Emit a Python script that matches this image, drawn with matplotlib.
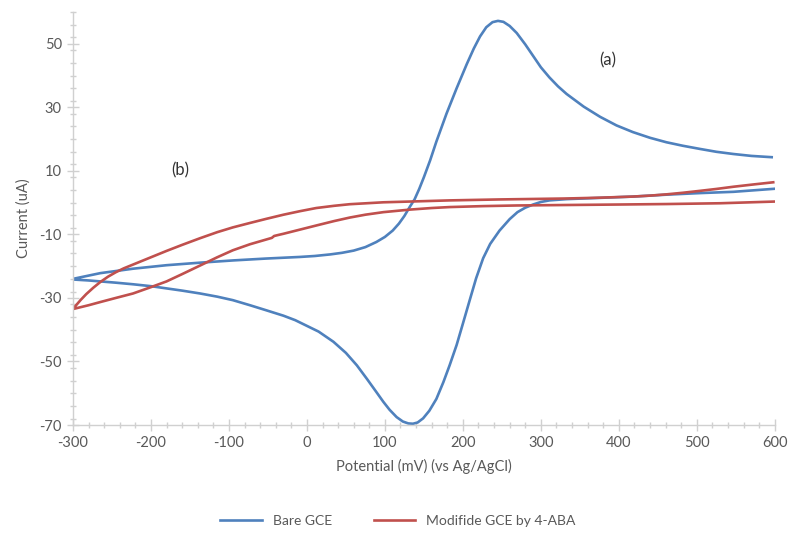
import numpy as np
import matplotlib
matplotlib.use('Agg')
from matplotlib import pyplot as plt
from matplotlib.ticker import MultipleLocator

plt.rcParams['font.family'] = ['Lato', 'DejaVu Sans']
plt.rcParams['axes.unicode_minus'] = False

# Bare GCE - upper branch (with anodic peak), potential in mV, current in uA
bare_up_x = [-300, -265, -223, -180, -137, -95, -52, -9, 10, 30, 45, 60, 75, 89, 100,
             110, 118, 125, 132, 138, 144, 150, 158, 166, 179, 192, 205, 214, 222, 230,
             238, 245, 252, 260, 269, 280, 290, 300, 311, 322, 333, 355, 376, 397, 418,
             440, 461, 482, 504, 525, 547, 570, 596]
bare_up_y = [-24.0, -22.2, -20.8, -19.7, -18.9, -18.2, -17.6, -17.1, -16.8, -16.3, -15.8,
             -15.1, -14.0, -12.4, -10.8, -8.8, -6.6, -4.2, -1.3, 1.0, 4.3, 8.0, 13.3, 19.2,
             28.0, 36.0, 43.6, 48.5, 52.3, 55.2, 56.8, 57.2, 56.9, 55.6, 53.4, 49.8, 46.2,
             42.6, 39.4, 36.6, 34.2, 30.2, 27.0, 24.3, 22.2, 20.4, 19.0, 17.9, 16.9, 16.0,
             15.3, 14.7, 14.3]

# Bare GCE - lower branch (with cathodic peak)
bare_lo_x = [-300, -280, -265, -245, -223, -200, -180, -160, -137, -115, -95, -73, -52,
             -30, -15, 0, 15, 34, 50, 64, 77, 89, 98, 106, 115, 123, 130, 136, 142, 149,
             157, 166, 175, 183, 192, 200, 209, 217, 226, 235, 247, 260, 270, 280, 290,
             300, 311, 333, 376, 418, 461, 504, 547, 602]
bare_lo_y = [-24.2, -24.5, -24.8, -25.2, -25.7, -26.3, -27.0, -27.7, -28.6, -29.6, -30.7,
             -32.3, -33.9, -35.6, -37.0, -38.8, -40.6, -43.8, -47.3, -51.2, -55.5, -59.6,
             -62.7, -65.2, -67.5, -68.9, -69.5, -69.6, -69.2, -67.9, -65.5, -61.8, -56.5,
             -51.2, -44.8, -38.1, -30.5, -23.8, -17.5, -13.0, -8.8, -5.2, -3.0, -1.6, -0.6,
             0.2, 0.7, 1.1, 1.5, 1.9, 2.5, 3.0, 3.4, 4.4]

# Modified GCE by 4-ABA - upper branch
mod_up_x = [-300, -296, -290, -283, -274, -265, -255, -245, -235, -223, -200, -180, -160,
            -137, -115, -95, -73, -52, -30, -9, 12, 35, 55, 98, 141, 183, 247, 290, 333,
            375, 418, 440, 461, 482, 504, 525, 547, 572, 598]
mod_up_y = [-33.4, -32.3, -30.6, -28.8, -26.8, -25.0, -23.3, -21.9, -20.7, -19.5, -17.2,
            -15.2, -13.3, -11.2, -9.3, -7.8, -6.4, -5.1, -3.8, -2.7, -1.7, -1.0, -0.5, 0.1,
            0.4, 0.7, 1.0, 1.15, 1.3, 1.55, 1.9, 2.2, 2.6, 3.1, 3.7, 4.3, 5.0, 5.7, 6.4]

# Modified GCE by 4-ABA - lower branch
mod_lo_x = [-300, -280, -265, -245, -223, -200, -180, -160, -137, -115, -95, -73, -52,
            -45, -42, -37, -30, -9, 12, 35, 55, 75, 98, 132, 160, 183, 226, 269, 333, 400,
            461, 530, 602]
mod_lo_y = [-33.5, -32.3, -31.3, -30.0, -28.6, -26.6, -24.8, -22.5, -19.8, -17.2, -15.0,
            -13.1, -11.6, -11.1, -10.5, -10.2, -9.8, -8.5, -7.2, -5.8, -4.7, -3.8, -3.0,
            -2.2, -1.7, -1.4, -1.1, -0.9, -0.75, -0.6, -0.45, -0.2, 0.35]

x_ticks = [-300, -200, -100, 0, 100, 200, 300, 400, 500, 600]
y_ticks = [-70, -50, -30, -10, 10, 30, 50]

blue = '#4f81bd'
red = '#c0504d'
grey = '#595959'
axis_grey = '#d0d0d0'

# one path: upper branch right->left, then lower branch left->right
bare_x = bare_up_x[::-1] + bare_lo_x
bare_y = bare_up_y[::-1] + bare_lo_y
mod_x = mod_up_x[::-1] + mod_lo_x
mod_y = mod_up_y[::-1] + mod_lo_y

fig = plt.figure(figsize=(7.89, 5.33), dpi=100)
ax = fig.add_axes([0.0925, 0.2026, 0.8895, 0.7749])

ax.plot(bare_x, bare_y, color=blue, lw=1.9, label='Bare GCE', solid_joinstyle='round')
ax.plot(mod_x, mod_y, color=red, lw=1.9, label='Modifide GCE by 4-ABA', solid_joinstyle='round')

ax.set_xlim(-300, 600)
ax.set_ylim(-70, 60)
ax.set_xticks(x_ticks)
ax.set_yticks(y_ticks)
ax.xaxis.set_minor_locator(MultipleLocator(20))
ax.yaxis.set_minor_locator(MultipleLocator(4))

for s in ['top', 'right']:
    ax.spines[s].set_visible(False)
for s in ['left', 'bottom']:
    ax.spines[s].set_color(axis_grey)
    ax.spines[s].set_linewidth(1.0)

ax.tick_params(which='major', direction='inout', length=8, width=1, color=axis_grey,
               labelcolor=grey, labelsize=10.5, pad=4)
ax.tick_params(which='minor', direction='inout', length=4, width=1, color=axis_grey)

ax.set_xlabel('Potential (mV) (vs Ag/AgCl)', color=grey, fontsize=10.5, labelpad=6)
ax.set_ylabel('Current (uA)', color=grey, fontsize=10.5, labelpad=6)

ax.text(386, 44.7, '(a)', color='#333333', fontsize=12, ha='center', va='center')
ax.text(-163, 10.1, '(b)', color='#333333', fontsize=12, ha='center', va='center')

leg = fig.legend(loc='center', bbox_to_anchor=(398 / 789, 0.023), ncol=2, frameon=False,
                 handlelength=3.0, columnspacing=3.0, fontsize=10)
for t in leg.get_texts():
    t.set_color(grey)

fig.savefig('out.png', dpi=100)
